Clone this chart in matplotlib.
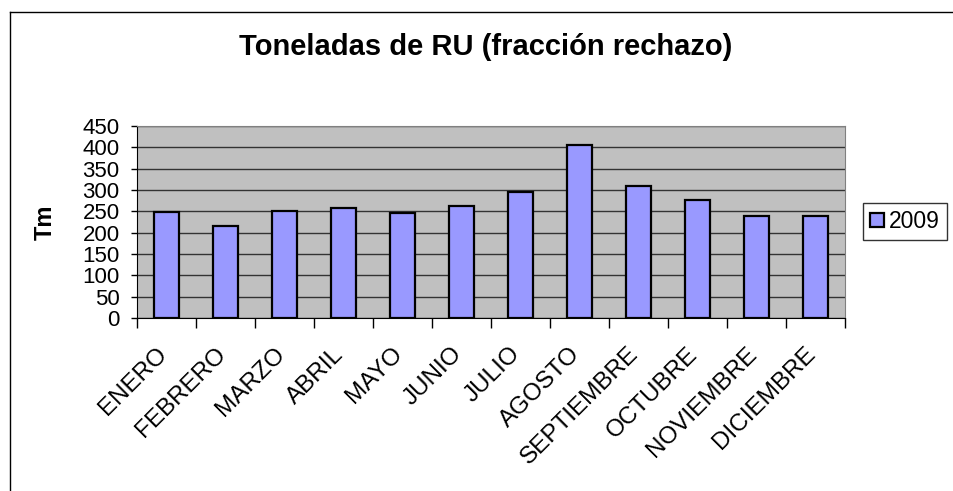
import matplotlib.pyplot as plt
from matplotlib.lines import Line2D
from matplotlib.transforms import ScaledTranslation

plt.rcParams['font.family'] = ['Liberation Sans', 'DejaVu Sans']

meses = ['ENERO', 'FEBRERO', 'MARZO', 'ABRIL', 'MAYO', 'JUNIO', 'JULIO',
         'AGOSTO', 'SEPTIEMBRE', 'OCTUBRE', 'NOVIEMBRE', 'DICIEMBRE']
toneladas = [249, 215, 251, 257, 246, 262, 295, 405, 310, 277, 239, 239]
serie = '2009'
yticks = list(range(0, 451, 50))

fig = plt.figure(figsize=(9.54, 4.91), dpi=100)
ax = fig.add_axes([137 / 954, 1 - 318 / 491, 708 / 954, 192 / 491])

# marco del grafico: solo se ven los lados izquierdo y superior
x0, y0 = 10 / 954, 1 - 12 / 491
fig.add_artist(Line2D([x0, x0], [0, y0], color='black', lw=1, transform=fig.transFigure))
fig.add_artist(Line2D([x0, 1.01], [y0, y0], color='black', lw=1, transform=fig.transFigure))

ax.set_facecolor('#C0C0C0')
x = list(range(len(meses)))
ax.bar(x, toneladas, width=0.42, color='#9999FF', edgecolor='black',
       linewidth=1.6, label=serie, zorder=3)

ax.set_xlim(-0.5, len(meses) - 0.5)
ax.set_ylim(0, 450)
ax.set_yticks(yticks)
ax.tick_params(axis='y', labelsize=16, length=4.5, width=1, pad=8)
ax.yaxis.grid(True, color='#333333', linewidth=1, zorder=0)
ax.set_axisbelow(True)

ax.set_xticks([i - 0.5 for i in range(len(meses) + 1)])
ax.set_xticklabels([])
ax.set_xticks(x, minor=True)
ax.set_xticklabels(meses, minor=True, rotation=45, ha='right', va='top',
                   rotation_mode='anchor', fontsize=17.5)
ax.tick_params(axis='x', which='major', length=7, width=1)
ax.tick_params(axis='x', which='minor', length=0, pad=18)
desplaz = ScaledTranslation(-11 / 100, 0, fig.dpi_scale_trans)
for lab in ax.get_xticklabels(minor=True):
    lab.set_transform(lab.get_transform() + desplaz)

for s in ['top', 'right']:
    ax.spines[s].set_color('#808080')
ax.spines['left'].set_color('black')
ax.spines['bottom'].set_color('black')

ax.set_ylabel('Tm', fontsize=17, fontweight='bold')
ax.yaxis.set_label_coords((57 - 137) / 708, 0.5)
fig.text(486 / 954, 1 - 47 / 491, 'Toneladas de RU (fracción rechazo)',
         ha='center', va='center', fontsize=21, fontweight='bold')

leg = fig.legend(loc='upper left', bbox_to_anchor=(863 / 954, 1 - 203 / 491),
                 fontsize=16.5, frameon=True, fancybox=False, edgecolor='black',
                 handlelength=0.6, handleheight=0.6, handletextpad=0.25,
                 borderpad=0.3, borderaxespad=0)
leg.get_frame().set_linewidth(1)

fig.savefig('out.png', dpi=100)
